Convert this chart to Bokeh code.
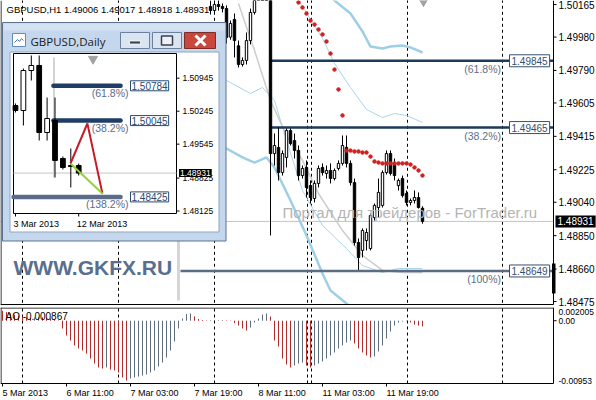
from bokeh.plotting import figure
from bokeh.layouts import column
from bokeh.models import ColumnDataSource, Range1d, Label
from bokeh.embed import file_html
from bokeh.resources import INLINE

FONT = "Liberation Sans"

# ------------------------------------------------------------------
# GBPUSD H1 bars; bar 0 = 5 Mar 2013 19:00, one bar per hour
# ------------------------------------------------------------------
h1_bar = list(range(52, 106))
h1_open = [1.50154, 1.50131, 1.50165, 1.50154, 1.50142, 1.49980, 1.50080, 1.49930, 1.49824, 1.49847,
           1.49960, 1.50120, 1.50216, 1.50260, 1.50240, 1.50225, 1.49317, 1.49352, 1.49209, 1.49295,
           1.49448, 1.49391, 1.49335, 1.49192, 1.49238, 1.49135, 1.49061, 1.49147, 1.49238, 1.49204,
           1.49221, 1.49175, 1.49232, 1.49261, 1.49352, 1.49261, 1.49152, 1.48811, 1.48766, 1.48822,
           1.48777, 1.48953, 1.49010, 1.49022, 1.49209, 1.49317, 1.49261, 1.49135, 1.49175, 1.49090,
           1.49039, 1.49050, 1.49067, 1.49006]
h1_high = [1.50188, 1.50177, 1.50200, 1.50171, 1.50160, 1.50074, 1.50114, 1.49960, 1.49864, 1.50006,
           1.50142, 1.50245, 1.50290, 1.50320, 1.50300, 1.50310, 1.49431, 1.49465, 1.49335, 1.49460,
           1.49460, 1.49431, 1.49363, 1.49249, 1.49278, 1.49164, 1.49164, 1.49249, 1.49261, 1.49249,
           1.49261, 1.49232, 1.49278, 1.49420, 1.49420, 1.49278, 1.49175, 1.48834, 1.48891, 1.48891,
           1.48976, 1.49033, 1.49175, 1.49221, 1.49335, 1.49335, 1.49289, 1.49175, 1.49192, 1.49107,
           1.49061, 1.49107, 1.49096, 1.49017]
h1_low = [1.50108, 1.50120, 1.50131, 1.50120, 1.49943, 1.49965, 1.49864, 1.49807, 1.49812, 1.49824,
          1.49938, 1.50108, 1.50200, 1.50220, 1.50190, 1.48851, 1.49249, 1.49164, 1.49192, 1.49238,
          1.49363, 1.49289, 1.49164, 1.49175, 1.49067, 1.49033, 1.49039, 1.49124, 1.49192, 1.49175,
          1.49147, 1.49164, 1.49221, 1.49249, 1.49238, 1.49135, 1.48794, 1.48655, 1.48726, 1.48766,
          1.48766, 1.48936, 1.48953, 1.49010, 1.49198, 1.49192, 1.49164, 1.49107, 1.49067, 1.49022,
          1.49022, 1.49033, 1.49004, 1.48918]
h1_close = [1.50131, 1.50165, 1.50154, 1.50142, 1.49977, 1.50057, 1.49960, 1.49824, 1.49847, 1.49960,
            1.50120, 1.50216, 1.50260, 1.50240, 1.50225, 1.49317, 1.49363, 1.49209, 1.49317, 1.49448,
            1.49374, 1.49335, 1.49192, 1.49232, 1.49124, 1.49067, 1.49147, 1.49232, 1.49209, 1.49221,
            1.49175, 1.49221, 1.49261, 1.49363, 1.49261, 1.49152, 1.48811, 1.48726, 1.48879, 1.48868,
            1.48965, 1.49022, 1.49096, 1.49209, 1.49317, 1.49204, 1.49192, 1.49164, 1.49078, 1.49039,
            1.49050, 1.49067, 1.49010, 1.48931]

# Parabolic SAR
psar_bar = list(range(74, 106))
psar = [1.50177, 1.50148, 1.50114, 1.50074, 1.50051, 1.50023, 1.49995, 1.49955, 1.49886, 1.49795,
        1.49682, 1.49534, 1.49334, 1.49334, 1.49329, 1.49329, 1.49323, 1.49323, 1.49300, 1.49272,
        1.49266, 1.49261, 1.49261, 1.49261, 1.49261, 1.49261, 1.49261, 1.49261, 1.49255, 1.49238,
        1.49221, 1.49192]

# envelope bands (wide = thick, narrow = thin) and the grey trend line
wide_up_bar = [80, 83, 87, 90, 92, 95, 97, 100, 102, 105]
wide_up = [1.50256, 1.50188, 1.50114, 1.50012, 1.49926, 1.49915, 1.49926, 1.49932, 1.49921, 1.49892]
narrow_up_bar = [73, 75, 80, 83, 87, 91, 95, 98, 101, 105]
narrow_up = [1.50222, 1.50154, 1.49972, 1.49830, 1.49693, 1.49568, 1.49522, 1.49545, 1.49534, 1.49494]
wide_dn_bar = [53, 56, 60, 63, 66, 68, 72, 76, 80, 82, 86, 90]
wide_dn = [1.49363, 1.49346, 1.49295, 1.49266, 1.49295, 1.49238, 1.49050, 1.48851, 1.48635, 1.48538,
           1.48464, 1.48379]
narrow_dn_bar = [56, 62, 65, 68, 71, 75, 80, 86, 90, 95, 99, 105]
narrow_dn = [1.49733, 1.49659, 1.49693, 1.49619, 1.49391, 1.49107, 1.48908, 1.48777, 1.48680, 1.48640,
             1.48663, 1.48663]
trend_bar = [59, 63, 67, 71, 75, 79, 85, 90, 95, 100, 105]
trend = [1.50171, 1.49904, 1.49619, 1.49420, 1.49278, 1.49090, 1.48879, 1.48737, 1.48652, 1.48640, 1.48640]

# Fibonacci levels on H1
fib_levels = [1.49845, 1.49465, 1.48649]
fib_names = ["(61.8%)", "(38.2%)", "(100%)"]
fib_from = [67, 67, 44.5]
fib_anchor_bar = 44.0
fib_anchor = [1.48481, 1.50000]

# day separators (bar positions)
day_breaks = [5, 29, 53, 76.25, 77.25, 101.25, 125]

time_ticks = [0, 16, 32, 48, 64, 80, 96]
time_labels = ["5 Mar 2013", "6 Mar 11:00", "7 Mar 03:00", "7 Mar 19:00",
               "8 Mar 11:00", "11 Mar 03:00", "11 Mar 19:00"]
price_ticks = [1.50165, 1.49980, 1.49790, 1.49605, 1.49415, 1.49225, 1.49040, 1.48850, 1.48660, 1.48475]

# Awesome Oscillator, bars 0..105
ao = [0.00150, 0.00130, 0.00110, 0.00090, 0.00075, 0.00062, 0.00050, 0.00042, 0.00048, 0.00055,
      0.00050, 0.00042, 0.00033, 0.00020, 0.00005, -0.00118, -0.00225, -0.00301, -0.00376, -0.00422,
      -0.00452, -0.00498, -0.00574, -0.00650, -0.00710, -0.00726, -0.00710, -0.00741, -0.00756, -0.00786,
      -0.00862, -0.00908, -0.00877, -0.00862, -0.00847, -0.00832, -0.00817, -0.00786, -0.00756, -0.00695,
      -0.00635, -0.00559, -0.00452, -0.00316, -0.00118, 0.00033, 0.00102, 0.00109, 0.00064, 0.00026,
      0.00011, 0.00006, 0.00008, 0.00009, 0.00007, 0.00011, 0.00006, -0.00005, -0.00035, -0.00073,
      -0.00118, -0.00149, -0.00103, -0.00027, 0.00033, 0.00094, 0.00109, 0.00064, -0.00301, -0.00392,
      -0.00574, -0.00665, -0.00710, -0.00680, -0.00650, -0.00635, -0.00680, -0.00710, -0.00680, -0.00650,
      -0.00619, -0.00574, -0.00528, -0.00483, -0.00422, -0.00376, -0.00331, -0.00301, -0.00346, -0.00422,
      -0.00483, -0.00528, -0.00559, -0.00543, -0.00468, -0.00376, -0.00270, -0.00164, -0.00073, -0.00027,
      -0.00012, -0.00005, -0.00027, -0.00058, -0.00073, -0.000867]
ao_max, ao_min = 0.002005, -0.00953

# ------------------------------------------------------------------
# GBPUSD Daily (floating window); bar 0 = 3 Mar 2013
# ------------------------------------------------------------------
d1_bar = list(range(9))
d1_open = [1.50365, 1.50259, 1.51108, 1.51215, 1.49792, 1.50047, 1.49240, 1.49092, 1.49092]
d1_high = [1.50408, 1.51151, 1.51427, 1.51427, 1.50535, 1.50535, 1.49283, 1.49453, 1.49134]
d1_low = [1.50217, 1.49941, 1.50896, 1.49622, 1.49622, 1.48837, 1.49007, 1.48625, 1.48879]
d1_close = [1.50259, 1.51108, 1.51215, 1.49792, 1.50089, 1.49198, 1.49049, 1.49071, 1.48931]
d1_ticks = [1.50945, 1.50245, 1.49545, 1.48825, 1.48125]
d1_date_bars = [0, 8]
d1_date_labels = ["3 Mar 2013", "12 Mar 2013"]
d1_fib_levels = [1.50784, 1.50045, 1.48425]
d1_fib_names = ["(61.8%)", "(38.2%)", "(138.2%)"]
d1_fib_from = [4.8, 4.8, -0.25]
d1_fib_to = 13.3
d1_wave_bar = [6.96, 9.1, 11.0]
d1_wave = [1.49134, 1.49983, 1.48497]

# ------------------------------------------------------------------
# layout constants (pixels)
# ------------------------------------------------------------------
W = 596                 # canvas width
CH = 553                # right edge of the chart area, price scale to its right
MH = 307                # height of the price pane canvas
MB = 304                # bottom border of the price chart
AH = 93                 # height of the oscillator pane canvas
AB = 76                 # bottom border of the oscillator chart
BAR_PX, BAR_X0 = 4.0, 2.0
X_END = (CH - BAR_X0) / BAR_PX     # last bar position visible in the chart area
D1_X0, D1_DX = 15.0, 7.9                          # daily window: x of day 0, px per day
D1_Y0, D1_P0, D1_DP = 77.7, 1.50945, 0.0002123    # daily window: y of price P0, price per px
P_TOP, P_PX = 1.50188, 0.0000569                  # price at the top edge, price per px
AO_PX = (ao_max - ao_min) / AB


def candles(fig, x, o, h, l, c, width, **rng):
    src = ColumnDataSource(dict(
        x=x, h=h, l=l,
        top=[max(a, b) for a, b in zip(o, c)],
        bot=[min(a, b) for a, b in zip(o, c)],
        fill=["white" if b >= a else "black" for a, b in zip(o, c)]))
    fig.segment(x0="x", y0="l", x1="x", y1="h", source=src, line_color="black", line_width=1, **rng)
    fig.vbar(x="x", top="top", bottom="bot", width=width, fill_color="fill",
             line_color="black", line_width=1, source=src, **rng)


def label(fig, x, y, text, xr="default", yr="default", size="10px", color="black",
          align="left", baseline="middle", font=FONT, style="normal", **kw):
    fig.add_layout(Label(x=x, y=y, text=text, x_range_name=xr, y_range_name=yr,
                         text_font=font, text_font_size=size, text_color=color,
                         text_align=align, text_baseline=baseline, text_font_style=style, **kw))


def bare_figure(h, y_range):
    f = figure(frame_width=W, frame_height=h, x_range=x_range, y_range=y_range,
               x_axis_location=None, y_axis_location=None,
               output_backend="svg", toolbar_location=None,
               min_border_left=0, min_border_top=0, min_border_bottom=0, min_border_right=0)
    f.outline_line_color = None
    f.grid.visible = False
    f.background_fill_color = "white"
    f.border_fill_color = "white"
    return f


x_range = Range1d(-BAR_X0 / BAR_PX, (W - BAR_X0) / BAR_PX)

# ======================= H1 price pane =======================
p = bare_figure(MH, Range1d(P_TOP - MH * P_PX, P_TOP))
p.extra_x_ranges = {"px": Range1d(0, W),
                    "d1x": Range1d(-D1_X0 / D1_DX, (W - D1_X0) / D1_DX)}
p.extra_y_ranges = {"px": Range1d(MH, 0),
                    "d1y": Range1d(D1_P0 - (MH - D1_Y0) * D1_DP, D1_P0 + D1_Y0 * D1_DP)}

px = dict(x_range_name="px", y_range_name="px")
d1 = dict(x_range_name="d1x", y_range_name="d1y")

# day separators
p.segment(x0=day_breaks, y0=1.47, x1=day_breaks, y1=1.52, line_color="black",
          line_width=1, line_dash="3 3")

# indicator lines
p.segment(x0=fib_anchor_bar, y0=fib_anchor[0], x1=fib_anchor_bar, y1=fib_anchor[1],
          line_color="#d6d6d6", line_width=3)
p.line(trend_bar, trend, line_color="#cccccc", line_width=1.5)
p.line(narrow_up_bar, narrow_up, line_color="#a9d6ec", line_width=1)
p.line(narrow_dn_bar, narrow_dn, line_color="#a9d6ec", line_width=1)
p.line(wide_up_bar, wide_up, line_color="#9fcfe7", line_width=2.5)
p.line(wide_dn_bar, wide_dn, line_color="#9fcfe7", line_width=2.5)

# bid line
p.segment(x0=x_range.start, y0=h1_close[-1], x1=X_END, y1=h1_close[-1], line_color="#c4c4c4",
          line_width=1)

# Fibonacci rays
p.segment(x0=fib_from, y0=fib_levels, x1=X_END, y1=fib_levels,
          line_color=["#1d3a5c", "#1d3a5c", "#5a6d84"], line_width=2.5)

candles(p, h1_bar, h1_open, h1_high, h1_low, h1_close, 0.6)

p.scatter(psar_bar, psar, size=3.5, color="#d02020", marker="circle")

# chart shift marker
p.scatter(x=[423], y=[1.5], marker="inverted_triangle", size=8, color="#a3a3a3", **px)

# -------- floating daily window --------
p.quad(left=2, right=225.5, top=22, bottom=240.5, fill_color="#c4d7ed",
       line_color="#5a7190", line_width=1, **px)
p.quad(left=3, right=224.5, top=23, bottom=30, fill_color="#d4e2f2", line_color=None, **px)
p.quad(left=9.5, right=218.5, top=51.5, bottom=231.5, fill_color="white", line_color="#8ea4c0", **px)
p.quad(left=13, right=176, top=53, bottom=213, fill_color="white", line_color="black", **px)
p.quad(left=[120, 152], right=[149, 181], top=32, bottom=48, fill_color="#dbe5f1",
       line_color="#6c819c", **px)
p.quad(left=184, right=215, top=32, bottom=48, fill_color="#c9473d", line_color="#7d2d27", **px)
p.quad(left=129, right=140, top=40.5, bottom=43.5, fill_color="#3b4250", line_color="white",
       line_width=0.8, **px)
p.quad(left=161, right=172, top=35.5, bottom=44.5, fill_color="#eef2f7", line_color="#3b4250",
       line_width=1.5, **px)
p.segment(x0=[195, 195], y0=[35, 45], x1=[205, 205], y1=[45, 35], line_color="white",
          line_width=3, **px)
p.quad(left=12, right=25, top=33, bottom=46, fill_color="white", line_color="#6a8cb4", **px)
p.line(x=[14, 17, 19, 21, 23], y=[42, 39, 41, 38, 40], line_color="#4a78b0", line_width=1, **px)

# daily chart contents
p.segment(x0=13, y0=d1_close[-1], x1=176, y1=d1_close[-1], line_color="#c4c4c4",
          x_range_name="px", y_range_name="d1y")
p.segment(x0=53.5, y0=57, x1=53.5, y1=177, line_color="#d4d4d4", line_width=2, **px)
p.segment(x0=d1_fib_from, y0=d1_fib_levels, x1=d1_fib_to, y1=d1_fib_levels,
          line_color=["#1f3d66", "#1f3d66", "#5b6c8a"], line_width=4.5, line_cap="round", **d1)
candles(p, d1_bar, d1_open, d1_high, d1_low, d1_close, 0.6, **d1)
p.line(d1_wave_bar, d1_wave, line_color="#c41e2a", line_width=2, **d1)
p.line([d1_wave_bar[0], d1_wave_bar[2]], [d1_wave[0], d1_wave[2]], line_color="#93d134",
       line_width=2, **d1)
p.scatter(x=[92.5], y=[58.5], marker="inverted_triangle", size=9, color="#a3a3a3", **px)
p.segment(x0=176, y0=d1_ticks, x1=179, y1=d1_ticks, line_color="black",
          x_range_name="px", y_range_name="d1y")
p.segment(x0=d1_date_bars, y0=213, x1=d1_date_bars, y1=216, line_color="black",
          x_range_name="d1x", y_range_name="px")

# price scale strip and chart borders
p.quad(left=CH, right=W, top=0, bottom=MH, fill_color="white", line_color=None, **px)
p.quad(left=0, right=W, top=MB, bottom=MH, fill_color="white", line_color=None, **px)
p.segment(x0=[0.5, CH, 0], y0=[0, 0, MB], x1=[0.5, CH, CH], y1=[MB, MB, MB],
          line_color="black", line_width=1, **px)
p.segment(x0=CH, y0=price_ticks, x1=CH + 3, y1=price_ticks, line_color="black",
          x_range_name="px")
p.quad(left=551.5, right=555, top=263, bottom=293, fill_color="black", line_color=None, **px)

# daily window texts
label(p, 30, 40.5, "GBPUSD,Daily", xr="px", yr="px", size="11.5px", color="#1b1b1b", font="Open Sans")
for v in d1_ticks:
    label(p, 182, v, "%.5f" % v, xr="px", yr="d1y", size="8.5px")
label(p, 178.5, d1_close[-1], "%.5f" % d1_close[-1], xr="px", yr="d1y", size="8.5px",
      color="white", background_fill_color="black", padding=1)
for lv, nm in zip(d1_fib_levels, d1_fib_names):
    label(p, 130, lv, "%.5f" % lv, xr="px", yr="d1y", size="10px", color="#2b4a6f",
          background_fill_color="white", border_line_color="#2b4a6f", padding=1)
    label(p, 128, lv, nm, xr="px", yr="d1y", size="10.5px", color="#5b6c8a",
          align="right", baseline="top", y_offset=-1.5)
for b, t in zip(d1_date_bars, d1_date_labels):
    label(p, b, 223, t, xr="d1x", yr="px", size="9px", x_offset=-2)

# H1 texts
label(p, 6, 9, "GBPUSD,H1 " + " ".join("%.5f" % v for v in
      (h1_open[-1], h1_high[-1], h1_low[-1], h1_close[-1])), xr="px", yr="px", size="9.5px")
for lv, nm in zip(fib_levels, fib_names):
    label(p, 509, lv, "%.5f" % lv, xr="px", size="10px", color="#35506e",
          background_fill_color="white", border_line_color="#35506e", padding=2)
    label(p, 500.5, lv, nm, xr="px", size="10.5px", color="#5d7088", align="right",
          baseline="top", y_offset=-2)
label(p, 282, 212, "Портал для трейдеров - ForTrader.ru", xr="px", yr="px", size="15px",
      color="#b4b4b4")
label(p, 13, 267, "WWW.GKFX.RU", xr="px", yr="px", size="21px", color="#5a6e8e", style="bold")

# price scale labels
for v in price_ticks:
    label(p, CH + 5, v, "%.5f" % v, xr="px", size="10px")
label(p, CH + 2, h1_close[-1], "%.5f" % h1_close[-1], xr="px", size="10px", color="white",
      background_fill_color="black", padding=2)

# ======================= Awesome Oscillator pane =======================
q = bare_figure(AH, Range1d(ao_max - AH * AO_PX, ao_max))
q.extra_x_ranges = {"px": Range1d(0, W)}
q.extra_y_ranges = {"px": Range1d(AH, 0)}

q.segment(x0=day_breaks, y0=ao_min, x1=day_breaks, y1=ao_max, line_color="black",
          line_width=1, line_dash="3 3")

ao_bar = list(range(len(ao)))
ao_col = ["#b22a2a" if k == 0 or ao[k] <= ao[k - 1] else "#5e6d7e" for k in range(len(ao))]
q.segment(x0=ao_bar, y0=[0] * len(ao), x1=ao_bar, y1=ao, line_color=ao_col, line_width=1)

# borders, scale ticks and time ticks
q.segment(x0=[0.5, CH, 0, 0], y0=[0, 0, 0.5, AB], x1=[0.5, CH, CH, CH], y1=[AB, AB, 0.5, AB],
          line_color="black", line_width=1, **px)
q.segment(x0=CH, y0=0, x1=CH + 3, y1=0, line_color="black", x_range_name="px")
q.segment(x0=time_ticks, y0=AB, x1=time_ticks, y1=AB + 3, line_color="black", y_range_name="px")

label(q, 5, 9, "AO %.6f" % ao[-1], xr="px", yr="px", size="10px")
label(q, CH + 5, 0, "0.00", xr="px", size="8.5px")
label(q, CH + 5, ao_max, "%.6f" % ao_max, xr="px", size="8.5px", baseline="top", y_offset=-1)
label(q, CH + 5, ao_min, "%.5f" % ao_min, xr="px", size="8.5px", baseline="bottom")
for t, s in zip(time_ticks, time_labels):
    label(q, t, AB + 9, s, yr="px", size="9px")

layout = column(p, q)
open("out.html", "w").write(file_html(layout, INLINE))
